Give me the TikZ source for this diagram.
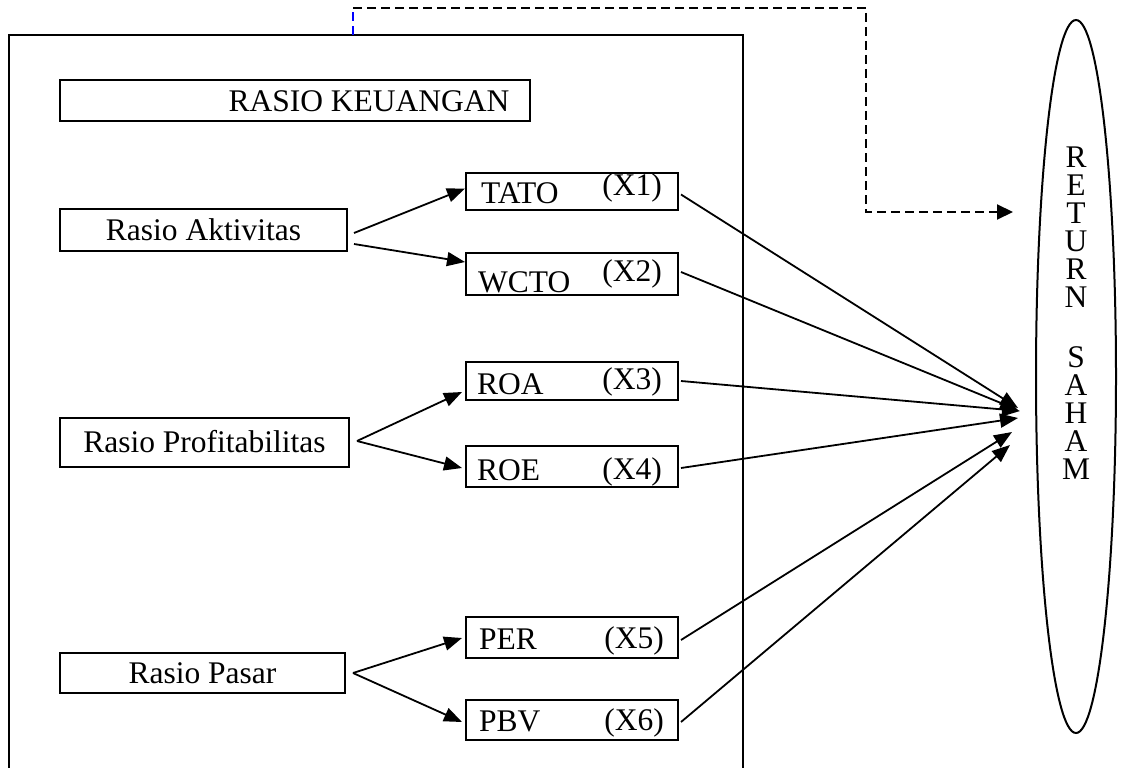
\documentclass[tikz,border=0pt]{standalone}
\usepackage{fontspec}
\setmainfont{Liberation Serif}
\usetikzlibrary{arrows.meta,shapes.geometric}
\begin{document}
\begin{tikzpicture}[x=1pt,y=-1pt,
  box/.style={draw, line width=2pt, inner sep=0pt, font=\fontsize{31.5}{34}\selectfont},
  small/.style={box, minimum width=212pt},
  txt/.style={inner sep=0pt, font=\fontsize{31.5}{34}\selectfont},
  arr/.style={line width=1.8pt, -{Triangle[length=18pt,width=14pt]}},
  dsh/.style={line width=2pt, dash pattern=on 9pt off 5pt}]
\useasboundingbox (0,0) rectangle (1122,768);
% outer frame
\draw[line width=2pt] (9,770) -- (9,35) -- (743,35) -- (743,770);
\coordinate (dstart) at (353,35);
\coordinate (dc1) at (353,8);
\coordinate (dc2) at (866,8);
\coordinate (dend) at (1013,212);
\draw[dsh, blue] (dstart) -- (dc1);
\draw[dsh, -{Triangle[length=16pt,width=15pt]}] (dc1) -- (dc2) |- (dend);

% title box
\node[box, minimum width=470pt, minimum height=41pt] (rk) at (295,100.5) {};
\node[txt, anchor=base] (rkt) at (369,111) {RASIO KEUANGAN};

% category boxes
\node[box, minimum width=287pt, minimum height=42pt] (ra) at (203.5,230) {\raisebox{-3pt}{Rasio Aktivitas}};
\node[box, minimum width=289pt, minimum height=49pt] (rp) at (204.5,442) {\raisebox{-3pt}{Rasio Profitabilitas}};
\node[box, minimum width=285pt, minimum height=40pt] (rpa) at (202.5,673) {Rasio Pasar};

% indicator boxes
\node[small, minimum height=37pt] (tato) at (572,191.5) {};
\node[small, minimum height=42pt] (wcto) at (572,274) {};
\node[small, minimum height=38pt] (roa) at (572,381) {};
\node[small, minimum height=41pt] (roe) at (572,466.5) {};
\node[small, minimum height=41pt] (per) at (572,637.5) {};
\node[small, minimum height=40pt] (pbv) at (572,720) {};

\node[txt, anchor=base west] (tato1) at (481,203) {TATO};
\node[txt, anchor=base east] (tato2) at (662,195) {(X1)};
\node[txt, anchor=base west] (wcto1) at (478,292) {WCTO};
\node[txt, anchor=base east] (wcto2) at (662,281) {(X2)};
\node[txt, anchor=base west] (roa1) at (477,394) {ROA};
\node[txt, anchor=base east] (roa2) at (662,389) {(X3)};
\node[txt, anchor=base west] (roe1) at (477,480) {ROE};
\node[txt, anchor=base east] (roe2) at (662,479) {(X4)};
\node[txt, anchor=base west] (per1) at (479,649) {PER};
\node[txt, anchor=base east] (per2) at (664,648) {(X5)};
\node[txt, anchor=base west] (pbv1) at (479,731) {PBV};
\node[txt, anchor=base east] (pbv2) at (664,730) {(X6)};

% target ellipse
\node[draw, ellipse, line width=2pt, minimum width=80pt, minimum height=713pt, inner sep=0pt] (rs) at (1076,376.5) {};
\node[inner sep=0pt, align=center, font=\fontsize{31.5}{28}\selectfont, anchor=north] (rst) at (1076,147)
  {R\\E\\T\\U\\R\\N\\[32pt]S\\A\\H\\A\\M};

% category -> indicator arrows
\draw[arr] ([shift={(6,3)}]ra.east) -- ([shift={(0,-3)}]tato.west);
\draw[arr] ([shift={(6,14)}]ra.east) -- ([shift={(0,-12)}]wcto.west);
\draw[arr] ([shift={(7,-1)}]rp.east) -- ([shift={(-3,11)}]roa.west);
\draw[arr] ([shift={(7,-1)}]rp.east) -- ([shift={(-3,1.5)}]roe.west);
\draw[arr] ([shift={(7,0)}]rpa.east) -- ([shift={(-3,0.5)}]per.west);
\draw[arr] ([shift={(7,0)}]rpa.east) -- ([shift={(-3,2)}]pbv.west);

% indicator -> target arrows
\coordinate (t1) at (1018,408);
\coordinate (t2) at (1018,410);
\coordinate (t3) at (1020,411);
\coordinate (t4) at (1018,418);
\coordinate (t5) at (1012,432);
\coordinate (t6) at (1010,445);
\draw[arr] ([shift={(2,3)}]tato.east) -- (t1);
\draw[arr] ([shift={(2,-2)}]wcto.east) -- (t2);
\draw[arr] ([shift={(2,0)}]roa.east) -- (t3);
\draw[arr] ([shift={(2,1.5)}]roe.east) -- (t4);
\draw[arr] ([shift={(2,2.5)}]per.east) -- (t5);
\draw[arr] ([shift={(2,2)}]pbv.east) -- (t6);
\end{tikzpicture}
\end{document}
